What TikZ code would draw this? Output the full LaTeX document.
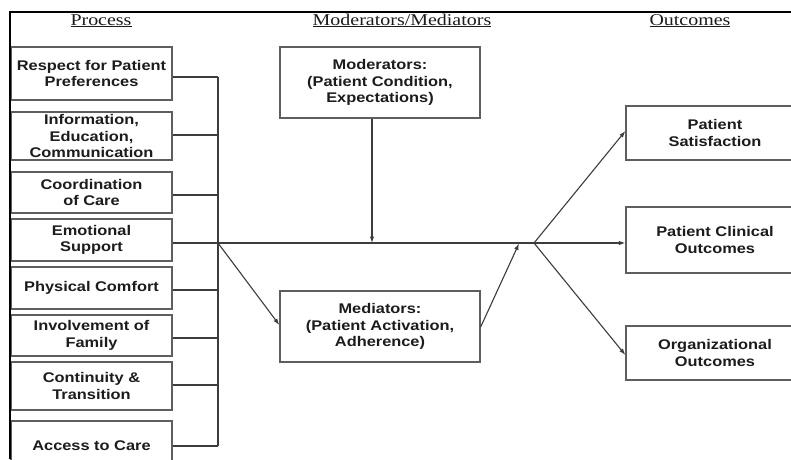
\documentclass[tikz,border=0pt]{standalone}
\usepackage{fontspec}
\setmainfont{Liberation Serif}[FakeStretch=1.21]
\newfontfamily\boxfont{Liberation Sans}[FakeStretch=1.17]
\usetikzlibrary{arrows.meta}
\definecolor{framegray}{HTML}{5E5E5E}
\definecolor{linegray}{HTML}{3C3C3C}
\definecolor{inkgray}{HTML}{1C1C1C}
\tikzset{
  box/.style={draw=framegray, line width=1.3pt, align=center, inner sep=0pt,
    text=inkgray, font=\boxfont\bfseries\fontsize{14}{16.7}\selectfont},
  leftbox/.style={box, minimum width=161pt},
  midbox/.style={box, minimum width=200pt, minimum height=71pt},
  outbox/.style={box, minimum width=178pt, minimum height=54pt},
  header/.style={anchor=base, text=inkgray, font=\fontsize{16.5}{18}\selectfont},
  link/.style={draw=linegray, line width=1.1pt},
  arrowlink/.style={link, -{Latex[length=6.5pt,width=4.5pt]}}
}
\begin{document}
\begin{tikzpicture}[x=1pt, y=-1pt]
\clip (0,0) rectangle (791,459);
\fill[white] (0,0) rectangle (791,459);

% column headings
\node[header] (hproc) at (101,25) {\underline{Process}};
\node[header] (hmod)  at (402,25) {\underline{Moderators/Mediators}};
\node[header] (hout)  at (690,25) {\underline{Outcomes}};

% process dimensions
\node[leftbox, minimum height=53pt] (b1) at (91.5,73.5) {Respect for Patient\\Preferences};
\node[leftbox, minimum height=48pt] (b2) at (91.5,136) {Information,\\Education,\\Communication};
\node[leftbox, minimum height=41pt] (b3) at (91.5,192.5) {Coordination\\of Care};
\node[leftbox, minimum height=42pt] (b4) at (91.5,240) {Emotional\\Support};
\node[leftbox, minimum height=42pt] (b5) at (91.5,288) {Physical Comfort};
\node[leftbox, minimum height=41pt] (b6) at (91.5,335.5) {Involvement of\\Family};
\node[leftbox, minimum height=48pt] (b7) at (91.5,386) {Continuity \&\\Transition};
\node[leftbox, minimum height=50pt] (b8) at (91.5,446) {Access to Care};

% moderators and mediators
\node[midbox] (mod) at (380,82.5) {Moderators:\\(Patient Condition,\\Expectations)};
\node[midbox] (med) at (380,326.5) {Mediators:\\(Patient Activation,\\Adherence)};

% outcomes
\node[outbox] (o1) at (715,133) {Patient\\Satisfaction};
\node[outbox, minimum height=66pt] (o2) at (715,240) {Patient Clinical\\Outcomes};
\node[outbox] (o3) at (715,353) {Organizational\\Outcomes};

% junction points on the main path
\coordinate (bustop) at (218,77);
\coordinate (busbot) at (218,446);
\coordinate (split) at (218,243);
\coordinate (modjoin) at (372,243);
\coordinate (medjoin) at (519,243.5);
\coordinate (hub) at (534,243);

% bracket collecting the process dimensions
\draw[link] ([yshift=-3.5pt]b1.east) -- (bustop);
\draw[link] ([yshift=1pt]b2.east) -- ++(46,0);
\draw[link] ([yshift=-2.5pt]b3.east) -- ++(46,0);
\draw[link] ([yshift=-2pt]b5.east) -- ++(46,0);
\draw[link] ([yshift=-2.5pt]b6.east) -- ++(46,0);
\draw[link] ([yshift=1pt]b7.east) -- ++(46,0);
\draw[link] (b8.east) -- (busbot);
\draw[link] (bustop) -- (busbot);

% main path to the outcomes
\draw[link] ([yshift=-3pt]b4.east) -- (hub);
\draw[arrowlink] ([xshift=-8pt]mod.south) -- (modjoin);
\draw[arrowlink] (split) -- ([yshift=1.5pt]med.west);
\draw[arrowlink] ([yshift=-0.5pt]med.east) -- (medjoin);
\draw[arrowlink] (hub) -- ([yshift=2pt]o1.west);
\draw[arrowlink] (hub) -- ([yshift=-3pt]o2.west);
\draw[arrowlink] (hub) -- ([yshift=-2pt]o3.west);

% outer frame
\draw[black, line width=2pt] (10.3,459) -- (10.3,12.3) -- (791,12.3);
\end{tikzpicture}
\end{document}
